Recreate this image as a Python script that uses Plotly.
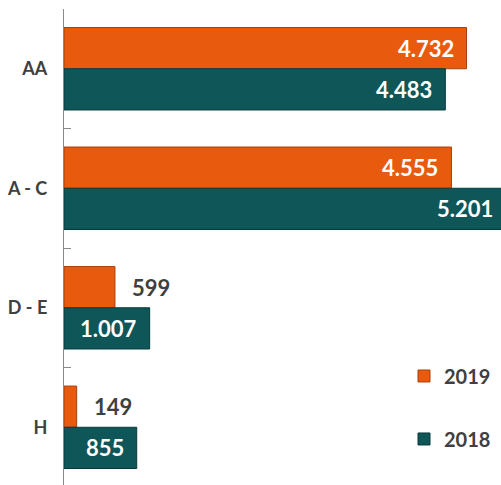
import plotly.graph_objects as go

categories = ["AA", "A - C", "D - E", "H"]
values_2019 = [4732, 4555, 599, 149]
values_2018 = [4483, 5201, 1007, 855]
series_names = ["2019", "2018"]

def fmt(v):
    return f"{v:,}".replace(",", ".")

orange = "#E85A0E"
teal = "#0E5658"
font_fam = "Lato, 'Open Sans', sans-serif"
INSIDE_MIN = 700  # values below this get their label outside the bar

fig = go.Figure()
fig.add_trace(go.Bar(
    y=categories, x=values_2019, name=series_names[0], orientation="h",
    marker=dict(color=orange, line=dict(color="#A8400A", width=1)),
    legendgroup="a", hoverinfo="skip",
))
fig.add_trace(go.Bar(
    y=categories, x=values_2018, name=series_names[1], orientation="h",
    marker=dict(color=teal, line=dict(color="#083A3C", width=1)),
    legendgroup="b", hoverinfo="skip",
))

# value labels, anchored on the data values through the axes
BAR_OFFSET = 20.6
for vals, shift in ((values_2019, BAR_OFFSET), (values_2018, -BAR_OFFSET)):
    for cat, v in zip(categories, vals):
        inside = v > INSIDE_MIN
        fig.add_annotation(
            x=v, y=cat, xref="x", yref="y", text=fmt(v), showarrow=False,
            xanchor="right" if inside else "left",
            xshift=-11 if inside else 15, yshift=shift,
            font=dict(size=22, family=font_fam, weight="bold",
                      color="white" if inside else "#404040"),
        )

# figure is slightly wider than the window: the reference crops the longest bar
fig.update_layout(
    width=507, height=485,
    margin=dict(l=64, r=0, t=9, b=0),
    paper_bgcolor="white", plot_bgcolor="white",
    barmode="group", bargap=0.31, bargroupgap=0,
    showlegend=True,
    legend=dict(x=0.7675, y=0.27, xanchor="left", yanchor="top",
                font=dict(size=20, family=font_fam, color="#404040", weight="bold"),
                tracegroupgap=34, traceorder="grouped", bgcolor="rgba(0,0,0,0)"),
    xaxis=dict(range=[0, 5208], showgrid=False, zeroline=False, showline=False,
               showticklabels=False, ticks=""),
    yaxis=dict(range=[3.483, -0.5], showgrid=False, showline=True, linecolor="#8a8a8a",
               linewidth=1.3, ticks="inside", tickson="boundaries", ticklen=7,
               tickcolor="#8a8a8a", tickwidth=1.3, ticklabelstandoff=12,
               tickfont=dict(size=18, family=font_fam, color="#404040", weight="bold")),
)

fig.write_html("out.html", config={"displayModeBar": False},
               post_script="document.body.style.margin='0';document.body.style.overflow='hidden';")
